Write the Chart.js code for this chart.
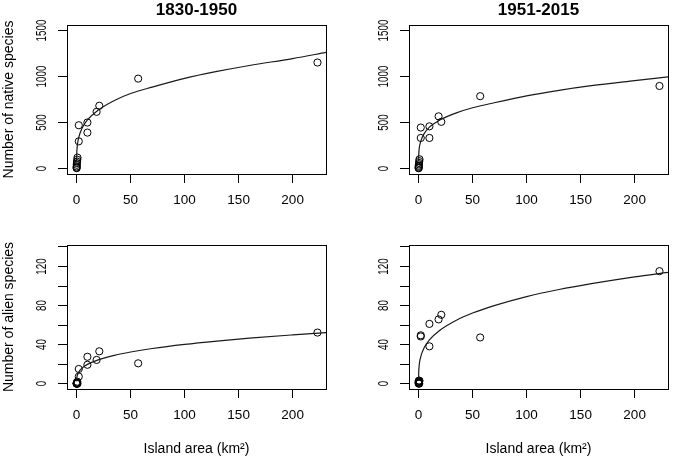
<!DOCTYPE html>
<html>
<head>
<meta charset="utf-8">
<script src="https://cdn.jsdelivr.net/npm/chart.js@4.4.1/dist/chart.umd.min.js"></script>
<style>
  body { margin: 0; background: #fff; }
  #wrap { position: relative; width: 675px; height: 459px; background: #fff; }
  canvas { position: absolute; }
</style>
</head>
<body>
<div id="wrap">
  <canvas id="c1" width="335" height="225" style="left:0;top:0"></canvas>
  <canvas id="c2" width="340" height="225" style="left:335px;top:0"></canvas>
  <canvas id="c3" width="335" height="234" style="left:0;top:225px"></canvas>
  <canvas id="c4" width="340" height="234" style="left:335px;top:225px"></canvas>
</div>
<script>
// island areas (km2), same islands in every panel
const islandArea = [0.02, 0.04, 0.08, 0.15, 0.25, 0.4, 0.6, 0.8, 2, 2, 10, 10, 18.5, 21, 57, 223];

// species counts per island
const native1830 = [3, 10, 22, 40, 58, 75, 95, 118, 470, 295, 500, 390, 616, 682, 977, 1152];
const native1951 = [2, 8, 18, 30, 45, 60, 80, 100, 445, 332, 458, 332, 567, 507, 786, 897];
const alien1830 = [0, 0, 0, 1, 0, 1, 2, 0, 15, 7.2, 27.5, 19.3, 24.3, 33.1, 20.8, 52.3];
const alien1951 = [0, 1, 2, 3, 1, 2, 0, 3, 49.5, 48.3, 61.2, 38.2, 65.8, 70.5, 47.3, 115.2];

// fitted curves
const fitArea = [0.01, 0.1, 0.5, 1, 2, 5, 10, 20, 35, 50, 70, 100, 130, 160, 200, 231];
const fitNative1830 = [78, 148, 230, 280, 338, 437, 528, 635, 740, 815, 885, 980, 1055, 1120, 1195, 1262];
const fitNative1951 = [78, 139, 210, 250, 298, 376, 449, 530, 605, 660, 715, 790, 850, 900, 955, 996];
const fitAlien1830 = [2.3, 4.7, 7.8, 9.6, 12, 15.9, 19.7, 24.4, 29, 32.4, 36, 40.2, 43.6, 46.6, 49.9, 52.2];
const fitAlien1951 = [5.7, 11.3, 18.3, 22.5, 27.7, 36.4, 44.8, 55, 65, 72.3, 79.9, 89.2, 96.4, 102.4, 109.4, 114];

// ticks
const xTicks = [0, 50, 100, 150, 200];
const yTicksNative = [0, 500, 1000, 1500];
const yLabelsNative = [0, 500, 1000, 1500];
const yTicksAlien = [0, 20, 40, 60, 80, 100, 120, 140];
const yLabelsAlien = [0, 40, 80, 120];

Chart.defaults.font.family = '"Liberation Sans", Arial, sans-serif';
Chart.defaults.color = '#000';

// R-like texts: box, title, rotated y labels, axis titles
const rText = {
    id: 'rText',
    afterDraw(chart, args, opts) {
        const ctx = chart.ctx;
        const a = chart.chartArea;
        const ys = chart.scales.y;
        ctx.save();
        ctx.strokeStyle = '#000';
        ctx.lineWidth = 1;
        ctx.strokeRect(a.left + 0.5, a.top + 0.5, a.right - a.left, a.bottom - a.top);
        ctx.fillStyle = '#000';

        // y tick labels, reading upward
        ctx.font = '14px "Liberation Sans", Arial, sans-serif';
        ctx.textAlign = 'center';
        ctx.textBaseline = 'alphabetic';
        opts.yLabels.forEach(v => {
            ctx.save();
            ctx.translate(a.left - 21.5, ys.getPixelForValue(v));
            ctx.rotate(-Math.PI / 2);
            ctx.scale(0.7, 1);
            ctx.fillText(String(v), 0, 0);
            ctx.restore();
        });

        if (opts.title) {
            ctx.font = 'bold 17px "Liberation Sans", Arial, sans-serif';
            ctx.fillText(opts.title, (a.left + a.right) / 2, 15);
        }
        if (opts.yTitle) {
            ctx.save();
            ctx.font = '14px "Liberation Sans", Arial, sans-serif';
            ctx.translate(13, (a.top + a.bottom) / 2);
            ctx.rotate(-Math.PI / 2);
            ctx.fillText(opts.yTitle, 0, 0);
            ctx.restore();
        }
        if (opts.xTitle) {
            ctx.font = '14px "Liberation Sans", Arial, sans-serif';
            ctx.fillText(opts.xTitle, (a.left + a.right) / 2, 228);
        }
        ctx.restore();
    }
};

function crearPanel(id, p) {
    const canvas = document.getElementById(id);
    const puntos = islandArea.map((a, i) => ({ x: a, y: p.valores[i] }));
    const curva = fitArea.map((a, i) => ({ x: a, y: p.ajuste[i] }));

    new Chart(canvas.getContext('2d'), {
        type: 'scatter',
        data: {
            datasets: [{
                data: curva,
                showLine: true,
                borderColor: '#1a1a1a',
                borderWidth: 1.2,
                pointRadius: 0,
                cubicInterpolationMode: 'monotone',
                fill: false
            }, {
                data: puntos,
                showLine: false,
                pointStyle: 'circle',
                pointRadius: 3.6,
                borderColor: '#000',
                borderWidth: 1,
                backgroundColor: 'rgba(0,0,0,0)'
            }]
        },
        options: {
            responsive: false,
            devicePixelRatio: 1,
            animation: false,
            events: [],
            layout: {
                padding: { left: 0, top: p.top, right: canvas.width - p.right, bottom: 0 }
            },
            plugins: {
                legend: { display: false },
                tooltip: { enabled: false },
                rText: { yLabels: p.yLabels, title: p.title, yTitle: p.yTitle, xTitle: p.xTitle }
            },
            scales: {
                x: {
                    type: 'linear',
                    min: -8.9,
                    max: 230.9,
                    afterBuildTicks: sc => { sc.ticks = xTicks.map(v => ({ value: v })); },
                    afterFit: sc => { sc.height = canvas.height - p.bottom; },
                    ticks: { font: { size: 13.5 }, padding: 9, maxRotation: 0, autoSkip: false },
                    grid: { drawOnChartArea: false, tickLength: 9, color: '#000', lineWidth: 1 },
                    border: { display: false }
                },
                y: {
                    type: 'linear',
                    min: p.yMin,
                    max: p.yMax,
                    afterBuildTicks: sc => { sc.ticks = p.yTicks.map(v => ({ value: v })); },
                    afterFit: sc => { sc.width = p.left; },
                    ticks: { display: false },
                    grid: { drawOnChartArea: false, tickLength: 9, color: '#000', lineWidth: 1 },
                    border: { display: false }
                }
            }
        },
        plugins: [rText]
    });
}

document.addEventListener('DOMContentLoaded', function() {
    crearPanel('c1', {
        valores: native1830, ajuste: fitNative1830,
        yMin: -60, yMax: 1560, yTicks: yTicksNative, yLabels: yLabelsNative,
        left: 67, right: 326, top: 25, bottom: 174,
        title: '1830-1950', yTitle: 'Number of native species'
    });
    crearPanel('c2', {
        valores: native1951, ajuste: fitNative1951,
        yMin: -60, yMax: 1560, yTicks: yTicksNative, yLabels: yLabelsNative,
        left: 74, right: 333, top: 25, bottom: 174,
        title: '1951-2015'
    });
    crearPanel('c3', {
        valores: alien1830, ajuste: fitAlien1830,
        yMin: -5.5, yMax: 142, yTicks: yTicksAlien, yLabels: yLabelsAlien,
        left: 67, right: 326, top: 20, bottom: 164,
        yTitle: 'Number of alien species', xTitle: 'Island area (km²)'
    });
    crearPanel('c4', {
        valores: alien1951, ajuste: fitAlien1951,
        yMin: -5.5, yMax: 142, yTicks: yTicksAlien, yLabels: yLabelsAlien,
        left: 74, right: 333, top: 20, bottom: 164,
        xTitle: 'Island area (km²)'
    });
});
</script>
</body>
</html>
